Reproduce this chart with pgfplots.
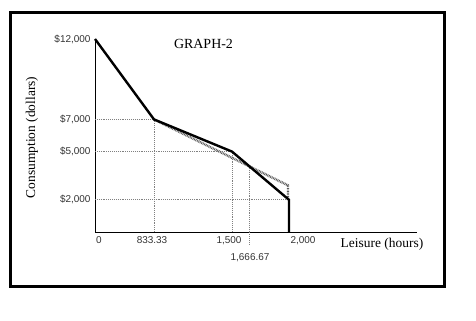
\documentclass[border=0pt]{standalone}
\usepackage{pgfplots}
\pgfplotsset{compat=1.18}
\usepackage{fontspec}
\setmainfont{Liberation Serif}
\newfontfamily\ticksf{Liberation Sans}
\definecolor{tickgray}{HTML}{333333}
\begin{document}
\begin{tikzpicture}[x=1bp,y=1bp]
\path[use as bounding box] (0,0) rectangle (476,320);
\draw[line width=2.6bp] (10.5,33.5) rectangle (444.5,307.5);
\begin{axis}[
  at={(95bp,88bp)}, anchor=south west,
  scale only axis, width=322bp, height=193bp,
  xmin=0, xmax=322, ymin=0, ymax=12000,
  axis x line=bottom, axis y line=left,
  axis line style={line width=1bp, -},
  clip=false,
  scaled y ticks=false, scaled x ticks=false,
  major tick length=0pt,
  ytick={2000,5000,7000,12000},
  yticklabels={{\$2{,}000},{\$5{,}000},{\$7{,}000},{\$12{,}000}},
  xtick={4,57,134,208},
  xticklabels={0,833.33,{1{,}500},{2{,}000}},
  extra x ticks={155},
  extra x tick labels={{1{,}666.67}},
  extra x tick style={tick label style={yshift=-17bp}},
  tick label style={font=\ticksf\fontsize{10}{12}\selectfont, text=tickgray},
  y tick label style={xshift=-1bp},
  x tick label style={yshift=-1bp},
]
% dotted guide lines
\addplot[gray, densely dotted, line width=0.9bp] coordinates {(0,7000) (59,7000) (59,0)};
\addplot[gray, densely dotted, line width=0.9bp] coordinates {(0,5000) (137,5000) (137,0)};
\addplot[gray, densely dotted, line width=0.9bp] coordinates {(0,2000) (194,2000)};
\addplot[gray, densely dotted, line width=0.9bp] coordinates {(154,4100) (154,-800)};
% dotted budget line
\addplot[gray!70!black, dash pattern=on 0.8bp off 0.8bp, line width=2.4bp] coordinates {(59,7000) (193,2900) (193,2000)};
% solid budget line
\addplot[black, line width=2.4bp] coordinates {(0,12000) (59,7000) (137,5000) (194,2000) (194,0)};
\node[anchor=base, font=\fontsize{13.5}{16}\selectfont] at (axis cs:287,0) [yshift=-15bp] {Leisure (hours)};
\end{axis}
\node[font=\fontsize{14}{16}\selectfont] at (203.5,276) {GRAPH-2};
\node[rotate=90, font=\fontsize{13.5}{16}\selectfont] at (32,182.5) {Consumption (dollars)};
\end{tikzpicture}
\end{document}
